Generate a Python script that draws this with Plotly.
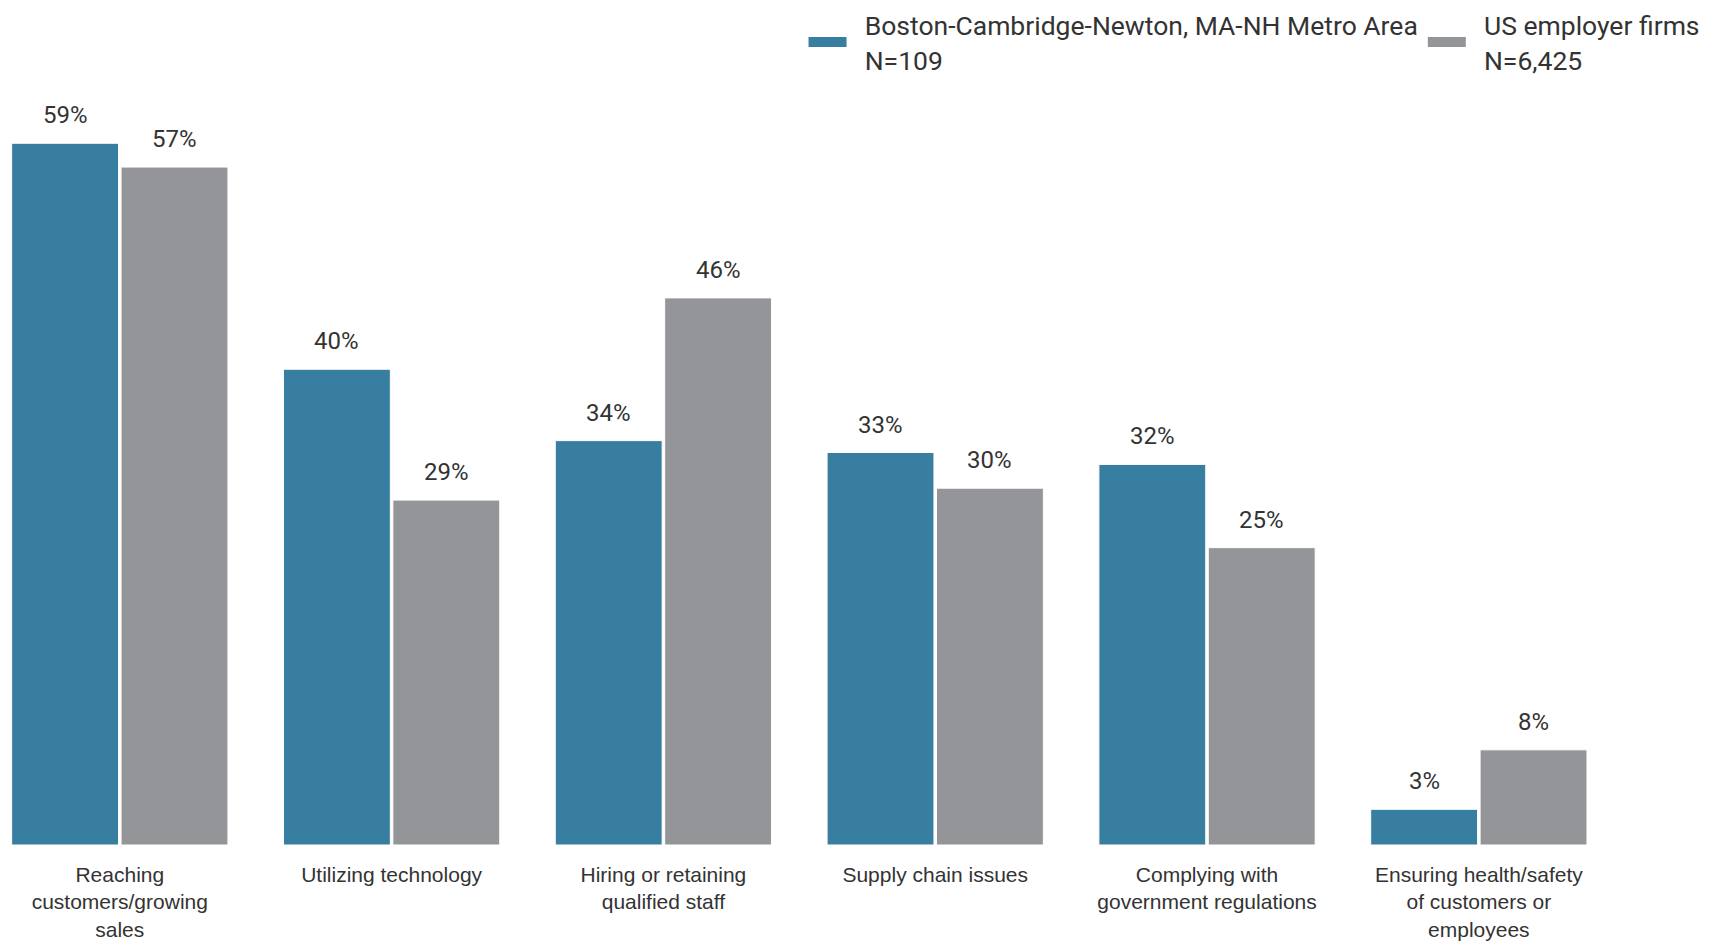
import plotly.graph_objects as go

categories = [
    "Reaching<br>customers/growing<br>sales",
    "Utilizing technology",
    "Hiring or retaining<br>qualified staff",
    "Supply chain issues",
    "Complying with<br>government regulations",
    "Ensuring health/safety<br>of customers or<br>employees",
]
boston = [59, 40, 34, 33, 32, 3]
us = [57, 29, 46, 30, 25, 8]
series_names = [
    "Boston-Cambridge-Newton, MA-NH Metro Area<br>N=109",
    "US employer firms<br>N=6,425",
]
colors = ["#387ea1", "#949599"]

BARGAP = 0.195
xs = list(range(len(categories)))

fig = go.Figure()
for vals, col in zip([boston, us], colors):
    fig.add_trace(go.Bar(
        x=xs, y=vals, marker=dict(color=col, line=dict(color="white", width=1)),
        showlegend=False, hoverinfo="y",
    ))

PAD = "\u00a0\u00a0"
for name, col in zip(series_names, colors):
    label = "<br>".join(PAD + part for part in name.split("<br>"))
    fig.add_trace(go.Scatter(
        x=[None], y=[None], mode="lines", name=label,
        line=dict(color=col, width=11),
    ))

off = (1 - BARGAP) / 4
for vals, sign in zip([boston, us], [-1, 1]):
    for i, v in enumerate(vals):
        fig.add_annotation(
            x=i + sign * off, y=v, xref="x", yref="y",
            text=f"{v}%", showarrow=False, yanchor="middle", yshift=28,
            font=dict(family="Roboto", size=24, color="#333333"),
        )

fig.update_layout(
    width=1716, height=934,
    paper_bgcolor="white", plot_bgcolor="white",
    margin=dict(l=0, r=0, t=52, b=96.5, autoexpand=False),
    barmode="group", bargap=BARGAP, bargroupgap=0.023,
    font=dict(family="Roboto", color="#333333"),
    legend=dict(
        orientation="h", xref="container", yref="paper",
        x=0.4636, xanchor="left", y=1.0751, yanchor="top",
        font=dict(family="Roboto", size=26.5, color="#333333"),
        itemwidth=38, bgcolor="rgba(0,0,0,0)",
    ),
    xaxis=dict(
        range=[-0.4113, 5.902], tickmode="array", tickvals=xs, ticktext=categories,
        showgrid=False, zeroline=False, showline=False, ticks="",
        tickfont=dict(family="Liberation Sans", size=21, color="#333333"),
        ticklabelstandoff=15,
    ),
    yaxis=dict(range=[0, 66], visible=False, showgrid=False, zeroline=False),
)

fig.write_html("out.html")
